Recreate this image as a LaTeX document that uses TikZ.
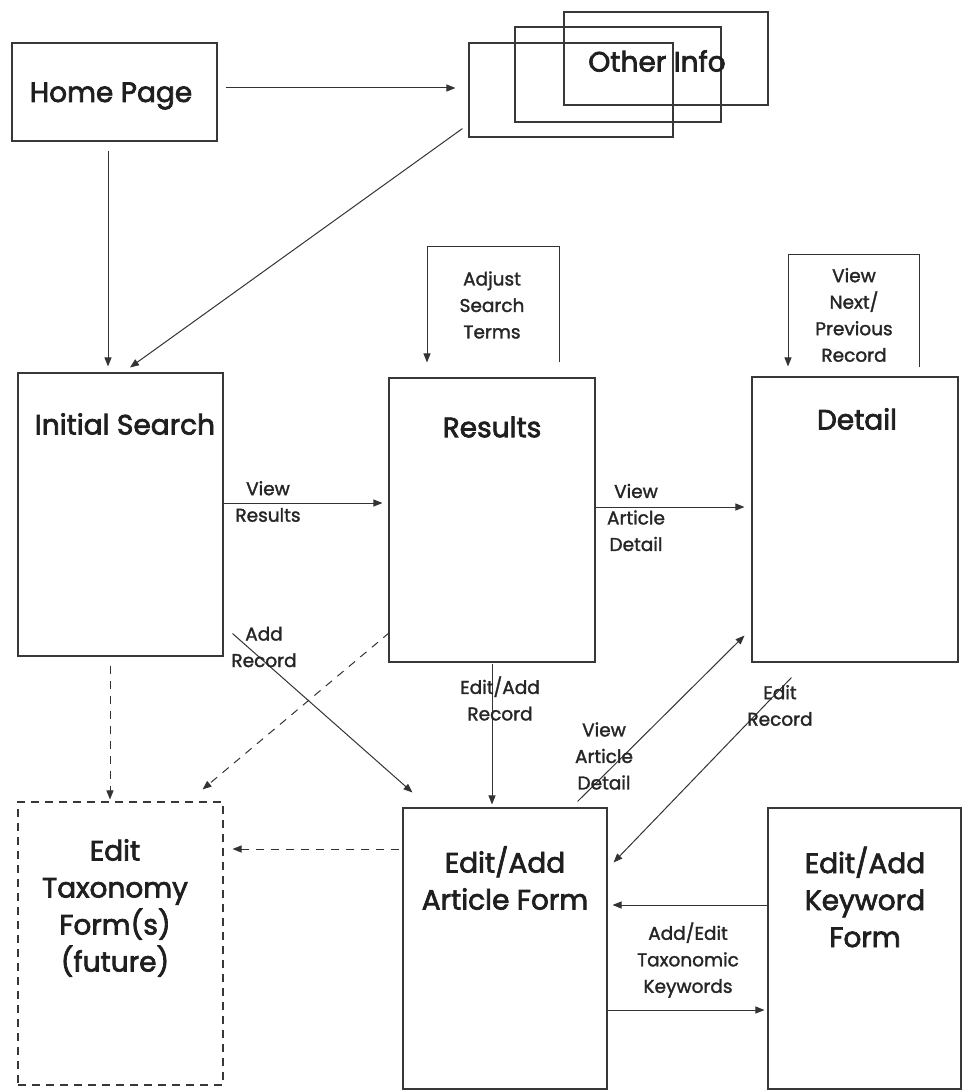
\documentclass[tikz,border=0pt]{standalone}
\usepackage{fontspec}
\setmainfont{Poppins}
\newfontfamily\titlefont{Poppins}[FakeBold=2.5]
\newfontfamily\labfont{Poppins}[FakeBold=1.6]
\usetikzlibrary{arrows.meta,calc}
\tikzset{
  box/.style={draw=black!78, line width=1.1pt, rectangle, inner sep=0pt},
  dbox/.style={box, dash pattern=on 8pt off 6pt},
  arr/.style={draw=black!80, line width=1pt, -{Triangle[length=9pt,width=7pt]}},
  darr/.style={arr, dash pattern=on 8pt off 7pt},
  title/.style={font=\titlefont\fontsize{28}{37}\selectfont, align=center, inner sep=0pt, text=black!88},
  lab/.style={font=\labfont\fontsize{18.5}{26.5}\selectfont, align=center, inner sep=0pt, text=black!85},
}
\begin{document}
\begin{tikzpicture}[x=1pt,y=-1pt]
\useasboundingbox (0,0) rectangle (963,1091);
% boxes
\node[box, minimum width=205pt, minimum height=98pt] (home) at (114.5,92) {};
\node[box, minimum width=204pt, minimum height=94pt] (o1) at (571,90) {};
\node[box, minimum width=206pt, minimum height=95pt] (o2) at (618,74.5) {};
\node[box, minimum width=204pt, minimum height=93pt] (o3) at (666,58.5) {};
\node[box, minimum width=205pt, minimum height=283pt] (init) at (120.5,514.5) {};
\node[box, minimum width=206pt, minimum height=284pt] (res) at (492,520) {};
\node[box, minimum width=206pt, minimum height=285pt] (det) at (855,519.5) {};
\node[dbox, minimum width=205pt, minimum height=283pt] (tax) at (120.5,943.5) {};
\node[box, minimum width=204pt, minimum height=281pt] (art) at (505,948.5) {};
\node[box, minimum width=193pt, minimum height=281pt] (kw) at (864.5,948.5) {};
% titles
\node[title] (homet) at (111,96) {Home Page};
\node[title] (othert) at (657,61) {Other Info};
\node[title] (initt) at (125,424) {Initial Search};
\node[title] (rest) at (492,427) {Results};
\node[title] (dett) at (857,419) {Detail};
\node[title] (taxt) at (115,908) {Edit\\Taxonomy\\Form(s)\\(future)};
\node[title] (artt) at (505,878) {Edit/Add\\Article Form};
\node[title] (kwt) at (865,897) {Edit/Add\\Keyword\\Form};
% connectors
\draw[arr, shorten <=8pt, shorten >=13pt] (home.east |- 0,88) -- (o1.west |- 0,88);
\draw[arr, shorten <=9pt, shorten >=6pt] (home.south -| 108,0) -- (init.north -| 108,0);
\draw[arr] ($(o1.south west)+(-6,-9)$) -- ($(init.north)+(9.5,-5)$);
\draw[arr, shorten >=6pt] (init.east |- 0,503) -- (res.west |- 0,503);
\draw[arr, shorten >=7pt] (res.east |- 0,507) -- (det.west |- 0,507);
\draw[arr] ($(res.north)+(67,-15)$) -- ++(0,-116) -| ($(res.north)+(-65,-15)$);
\draw[arr] ($(det.north)+(64,-9)$) -- ++(0,-113) -| ($(det.north)+(-67,-10)$);
\draw[arr, shorten <=1pt, shorten >=3pt] (res.south) -- (art.north -| res.south);
\draw[arr] ($(init.south east)+(9,-23)$) -- ($(art.north west)+(10,-15)$);
\draw[darr] ($(res.south west)+(1,-30)$) -- ($(tax.north east)+(-21,-12)$);
\draw[darr, shorten <=9pt, shorten >=2pt] (init.south -| 110,0) -- (tax.north -| 110,0);
\draw[darr, shorten <=3pt, shorten >=9pt] (art.west |- 0,849) -- (tax.east |- 0,849);
\draw[arr] ($(art.north east)+(-30,-6)$) -- ($(det.south west)+(-7,-27)$);
\draw[arr] ($(det.south west)+(40,15)$) -- ($(art.north east)+(6,55)$);
\draw[arr, shorten >=5pt] (kw.west |- 0,905) -- (art.east |- 0,905);
\draw[arr, shorten >=3pt] (art.east |- 0,1010) -- (kw.west |- 0,1010);
% labels
\node[lab] (l1) at (268,501.5) {View\\Results};
\node[lab] (l2) at (636,517.5) {View\\Article\\Detail};
\node[lab] (l3) at (492,305) {Adjust\\Search\\Terms};
\node[lab] (l4) at (854,315) {View\\Next/\\Previous\\Record};
\node[lab] (l5) at (500,698.5) {Edit/Add\\Record};
\node[lab] (l6) at (264,647) {Add\\Record};
\node[lab] (l7) at (604,756) {View\\Article\\Detail};
\node[lab] (l8) at (780,705.5) {Edit\\Record};
\node[lab] (l9) at (688,960) {Add/Edit\\Taxonomic\\Keywords};
\end{tikzpicture}
\end{document}
